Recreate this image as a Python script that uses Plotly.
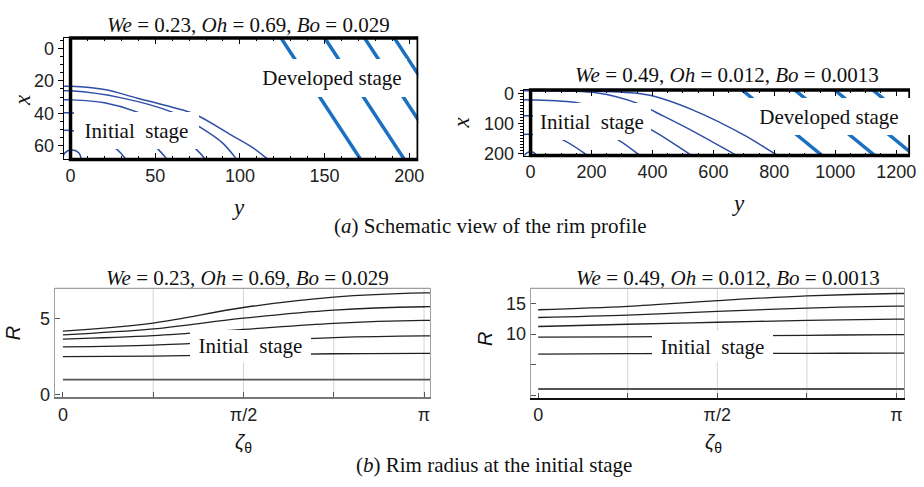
import math
import plotly.graph_objects as go

W, H = 924, 487
def PX(x): return x / W
def PY(y): return 1 - y / H

SERIF = "Liberation Serif, Times New Roman, serif"
SANS = "Liberation Sans, Arial, sans-serif"
DARK_BLUE = "#2f4ea6"
DEV_BLUE = "#1b70c0"

# ---------------- (a) left panel: We=0.23 ----------------
A1_C1_Y = [-5, 0, 20, 39.5, 60, 73.7, 95.2, 108, 118, 121]
A1_C1_X = [23.4, 23.4, 25.4, 30.7, 36.3, 40.7, 53.6, 61.5, 69.5, 72]
A1_C2_Y = [-5, 0, 30, 60, 76.7, 90, 99, 101]
A1_C2_X = [26.2, 26.2, 30.5, 39.3, 48.7, 58.5, 69.5, 72]
A1_C3_Y = [-5, 0, 20, 39.5, 60, 73.7, 80.5, 82]
A1_C3_X = [31.7, 31.7, 33.5, 39.3, 50.0, 61.6, 69.5, 72]
A1_C4_Y = [-5, 0, 20, 40, 51.2, 58, 60]
A1_C4_X = [39.7, 39.7, 43.0, 52.0, 61.6, 69.5, 72]
A1_C5_Y = [-5, 0, 15, 26.8, 33.6, 35]
A1_C5_X = [50.6, 50.6, 54.0, 61.6, 69.5, 72]
A1_C6_Y = [-5, -3.5, 0.8, 5, 6.5]
A1_C6_X = [69.5, 64.5, 62.6, 64.5, 69.5]
A1_DEV_Y_TOP = [124.3, 150.1, 173.6, 191.2]
A1_DEV_Y_BOT = [171.3, 197.1, 220.6, 238.2]
A1_DEV_X = [-6.3, 68.4]

# ---------------- (a) right panel: We=0.49 ----------------
A2_C1_Y = [-25, 0, 200, 388, 541, 704, 808, 830]
A2_C1_X = [-11, -11, -8, 5.5, 59, 141, 205, 215]
A2_C2_Y = [-25, 0, 215, 356, 411, 540, 672, 690]
A2_C2_X = [-9, -9, -2, 35, 63, 130, 205, 215]
A2_C3_Y = [-25, 0, 161, 300, 411, 525, 540]
A2_C3_X = [21.6, 21.6, 32.5, 72, 130, 205, 215]
A2_C4_Y = [-25, 0, 150, 280, 356, 370]
A2_C4_X = [75, 75, 100, 151, 205, 215]
A2_C5_Y = [-25, 0, 96, 183, 195]
A2_C5_X = [137, 137, 151, 205, 215]
A2_C6_Y = [-25, -12, 0, 12, 22]
A2_C6_X = [214, 199, 195, 199, 214]
A2_DEV_Y_TOP = [694, 867, 998, 1123]
A2_DEV_Y_BOT = [957, 1130, 1260, 1385]
A2_DEV_X = [-11.4, 207.8]

# ---------------- (b) rim radius ----------------
ZETA = [0, math.pi / 4, math.pi / 2, 3 * math.pi / 4, math.pi, 3.21]
B1_R = [
    [1.0, 1.0, 1.0, 1.0, 1.0, 1.0],
    [2.51, 2.55, 2.63, 2.70, 2.72, 2.72],
    [3.15, 3.27, 3.52, 3.76, 3.87, 3.87],
    [3.66, 3.89, 4.30, 4.70, 4.89, 4.89],
    [3.94, 4.33, 5.04, 5.57, 5.79, 5.79],
    [4.19, 4.72, 5.74, 6.42, 6.70, 6.70],
]
B2_R = [
    [1.1, 1.1, 1.1, 1.1, 1.1, 1.1],
    [6.77, 6.82, 6.86, 6.88, 6.93, 6.93],
    [9.50, 9.55, 9.68, 9.81, 9.92, 9.92],
    [11.23, 11.60, 11.92, 12.23, 12.44, 12.44],
    [12.69, 13.07, 13.70, 14.22, 14.54, 14.54],
    [13.95, 14.49, 15.43, 16.20, 16.58, 16.58],
]
B_TICKS = [0, math.pi / 2, math.pi]
B_TICKTEXT = ["0", "π/2", "π"]
B_MINOR = math.pi / 4
B_GRID = [math.pi / 4, math.pi / 2, 3 * math.pi / 4, math.pi]

TITLE_1 = "<i>We</i> = 0.23, <i>Oh</i> = 0.69, <i>Bo</i> = 0.029"
TITLE_2 = "<i>We</i> = 0.49, <i>Oh</i> = 0.012, <i>Bo</i> = 0.0013"

fig = go.Figure()

def curve(xs, ys, xa, ya, color, width, shape="spline"):
    fig.add_trace(go.Scatter(x=xs, y=ys, xaxis=xa, yaxis=ya, mode="lines",
                             line=dict(color=color, width=width, shape=shape),
                             hoverinfo="skip", showlegend=False))

for ys, xs in [(A1_C1_Y, A1_C1_X), (A1_C2_Y, A1_C2_X), (A1_C3_Y, A1_C3_X),
               (A1_C4_Y, A1_C4_X), (A1_C5_Y, A1_C5_X), (A1_C6_Y, A1_C6_X)]:
    curve(ys, xs, "x", "y", DARK_BLUE, 1.5)
for yt, yb in zip(A1_DEV_Y_TOP, A1_DEV_Y_BOT):
    curve([yt, yb], A1_DEV_X, "x", "y", DEV_BLUE, 3.5, "linear")

for ys, xs in [(A2_C1_Y, A2_C1_X), (A2_C2_Y, A2_C2_X), (A2_C3_Y, A2_C3_X),
               (A2_C4_Y, A2_C4_X), (A2_C5_Y, A2_C5_X), (A2_C6_Y, A2_C6_X)]:
    curve(ys, xs, "x2", "y2", DARK_BLUE, 1.5)
for yt, yb in zip(A2_DEV_Y_TOP, A2_DEV_Y_BOT):
    curve([yt, yb], A2_DEV_X, "x2", "y2", DEV_BLUE, 3.5, "linear")

for i, r in enumerate(B1_R):
    curve(ZETA, r, "x3", "y3", "#555" if i == 0 else "#222", 1.8 if i == 0 else 1.3)
for i, r in enumerate(B2_R):
    curve(ZETA, r, "x4", "y4", "#555" if i == 0 else "#222", 1.8 if i == 0 else 1.3)

tickfont = dict(family=SANS, size=18, color="#222")

def a_axes(xdom, ydom, xr, yr, xt, yt, xminor, yminor):
    xa = dict(domain=xdom, range=xr, tickvals=xt, ticks="inside", ticklen=6,
              tickcolor="black", showline=True, linecolor="black", linewidth=1,
              mirror="ticks", showgrid=False, zeroline=False, tickfont=tickfont,
              minor=dict(dtick=xminor, tick0=0, ticks="inside", ticklen=3, tickcolor="black"))
    ya = dict(domain=ydom, range=yr, tickvals=yt, ticks="outside", ticklen=5,
              tickcolor="black", showline=True, linecolor="black", linewidth=1,
              showgrid=False, zeroline=False, tickfont=tickfont,
              minor=dict(dtick=yminor, tick0=0, ticks="outside", ticklen=3, tickcolor="black"))
    return xa, ya

X1, Y1 = a_axes([PX(64), PX(421)], [PY(158), PY(33)], [-4.1, 205.3], [68.4, -6.3],
                [0, 50, 100, 150, 200], [0, 20, 40, 60], 10, 5)
X2, Y2 = a_axes([PX(527), PX(916)], [PY(154), PY(86.5)], [-23, 1245.5], [207.8, -11.4],
                [0, 200, 400, 600, 800, 1000, 1200], [0, 100, 200], 50, 10)
X1["anchor"] = "y"; Y1["anchor"] = "x"
X2["anchor"] = "y2"; Y2["anchor"] = "x2"

def b_axes(xdom, ydom, xr, yr, yt, bottom_color, bottom_w):
    xa = dict(domain=xdom, range=xr, tickvals=B_TICKS, ticktext=B_TICKTEXT,
              ticks="inside", ticklen=5, tickcolor="#555", showline=True,
              linecolor=bottom_color, linewidth=bottom_w, showgrid=False,
              zeroline=False, tickfont=tickfont,
              minor=dict(dtick=B_MINOR, tick0=0, ticks="inside", ticklen=5, tickcolor="#555"))
    ya = dict(domain=ydom, range=yr, tickvals=yt, ticks="inside",
              ticklen=5, tickcolor="#555", showline=True, linecolor="#a0a0a0",
              linewidth=1, mirror=True, showgrid=False, zeroline=False, tickfont=tickfont,
              minor=dict(dtick=5, tick0=0, ticks="inside", ticklen=5, tickcolor="#555"))
    return xa, ya

X3, Y3 = b_axes([PX(55), PX(433)], [PY(403), PY(290.7)], [-0.072, 3.195], [-0.17, 7.0],
                [0, 5], "#777", 2)
X4, Y4 = b_axes([PX(534), PX(910)], [PY(403.3), PY(290.7)], [-0.067, 3.208], [-0.31, 17.42],
                [10, 15], "#111", 1.5)
X3["anchor"] = "y3"; Y3["anchor"] = "x3"
X4["anchor"] = "y4"; Y4["anchor"] = "x4"

shapes = []
# thick frames of (a)
shapes.append(dict(type="rect", xref="x", yref="y domain", x0=0, x1=205.3, y0=0, y1=1,
                   line=dict(color="black", width=3.5), layer="above"))
shapes.append(dict(type="rect", xref="x2", yref="y2 domain", x0=0, x1=1245.5, y0=0, y1=1,
                   line=dict(color="black", width=3.5), layer="above"))
# grid + top frame of (b)
for xa, ya in [("x3", "y3"), ("x4", "y4")]:
    for g in B_GRID:
        shapes.append(dict(type="line", xref=xa, yref=ya + " domain", x0=g, x1=g, y0=0, y1=1,
                           line=dict(color="#d4d4d4", width=1), layer="below"))
    shapes.append(dict(type="line", xref=xa + " domain", yref=ya + " domain", x0=0, x1=1,
                       y0=1, y1=1, line=dict(color="#a0a0a0", width=1.2), layer="above"))

ann = []
def text(x, y, s, size=21, family=SERIF, angle=0, **kw):
    ann.append(dict(x=PX(x), y=PY(y), xref="paper", yref="paper", text=s, showarrow=False,
                    xanchor="center", yanchor="middle", textangle=angle,
                    font=dict(family=family, size=size, color="#111"), **kw))

def box(x, y, w, h, s):
    text(x, y, s, bgcolor="white", width=w, height=h, borderpad=0, borderwidth=0)

text(250, 20, TITLE_1)
text(732, 71, TITLE_2)
text(249, 280, TITLE_1)
text(733, 280, TITLE_2)
text(22, 97, "<i>x</i>", size=23, angle=-90)
text(240, 207, "<i>y</i>", size=23)
text(465, 120, "<i>x</i>", size=23, angle=-90)
text(743, 203, "<i>y</i>", size=23)
text(494, 226, "(<i>a</i>) Schematic view of the rim profile")
text(13, 337, "<i>R</i>", size=20, family=SANS, angle=-90)
text(245, 450, "<i>ζ</i><sub>θ</sub>", size=20, family=SANS)
text(488, 343, "<i>R</i>", size=20, family=SANS, angle=-90)
text(718, 450, "<i>ζ</i><sub>θ</sub>", size=20, family=SANS)
text(497, 473, "(<i>b</i>) Rim radius at the initial stage")

box(334, 74, 150, 38, "Developed stage")
box(137.5, 128.5, 125, 37, "Initial  stage")
box(834, 113.4, 164, 37, "Developed stage")
box(596, 118.5, 118, 37, "Initial  stage")
box(252.5, 350, 121, 32, "Initial  stage")
box(717.5, 350.5, 121, 31, "Initial  stage")

fig.update_layout(
    width=W, height=H, margin=dict(l=0, r=0, t=0, b=0),
    paper_bgcolor="white", plot_bgcolor="white", showlegend=False,
    xaxis=X1, yaxis=Y1, xaxis2=X2, yaxis2=Y2, xaxis3=X3, yaxis3=Y3, xaxis4=X4, yaxis4=Y4,
    shapes=shapes, annotations=ann,
)
fig.write_html("out.html")
